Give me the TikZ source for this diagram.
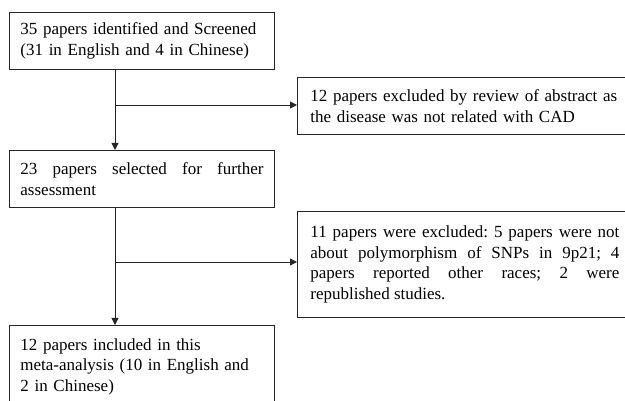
\documentclass[tikz,border=0pt]{standalone}
\usepackage{fontspec}
\setmainfont{Liberation Serif}
\usetikzlibrary{arrows.meta}
\hyphenpenalty=10000
\exhyphenpenalty=10000
\tolerance=9999
\frenchspacing
\begin{document}
\begin{tikzpicture}[x=1pt,y=-1pt,
  box/.style={draw=black!85, line width=0.9pt, rectangle, inner ysep=0pt,
    font=\fontsize{17}{20.5}\selectfont},
  lbox/.style={box, inner xsep=11pt, text width=243pt, minimum width=265pt, anchor=north west},
  rbox/.style={box, inner xsep=13pt, text width=309pt, anchor=north west},
  conn/.style={draw=black!85, line width=0.9pt, -{Triangle[length=7pt,width=7pt]}}
]
\useasboundingbox (0,0) rectangle (625,401);
\clip (0,0) rectangle (625,401);
\node[lbox, align=left, minimum height=57pt] (b1) at (9,12) {35 papers identified and Screened\\(31 in English and 4 in Chinese)};
\node[rbox, align=left, minimum height=57pt] (b2) at (297,77) {12 papers excluded by review of abstract as\\the disease was not related with CAD};
\node[lbox, align=justify, minimum height=57pt] (b3) at (9,150) {\hyphenpenalty=10000 23 papers selected for further\linebreak assessment};
\node[rbox, align=justify, minimum height=106pt] (b4) at (297,211) {\hyphenpenalty=10000 \frenchspacing 11 papers were excluded: 5 papers were not\linebreak about polymorphism of SNPs in 9p21; 4\linebreak papers reported other races; 2 were\linebreak republished studies.};
\node[lbox, align=left, minimum height=82pt] (b5) at (9,325) {12 papers included in this\\meta-analysis (10 in English and\\2 in Chinese)};
\coordinate (c1) at (115,105);
\coordinate (c2) at (115,262);
\draw[conn] (b1.south -| c1) -- (b3.north -| c1);
\draw[conn] (c1) -- (c1 -| b2.west);
\draw[conn] (b3.south -| c2) -- (b5.north -| c2);
\draw[conn] (c2) -- (c2 -| b4.west);
\end{tikzpicture}
\end{document}
